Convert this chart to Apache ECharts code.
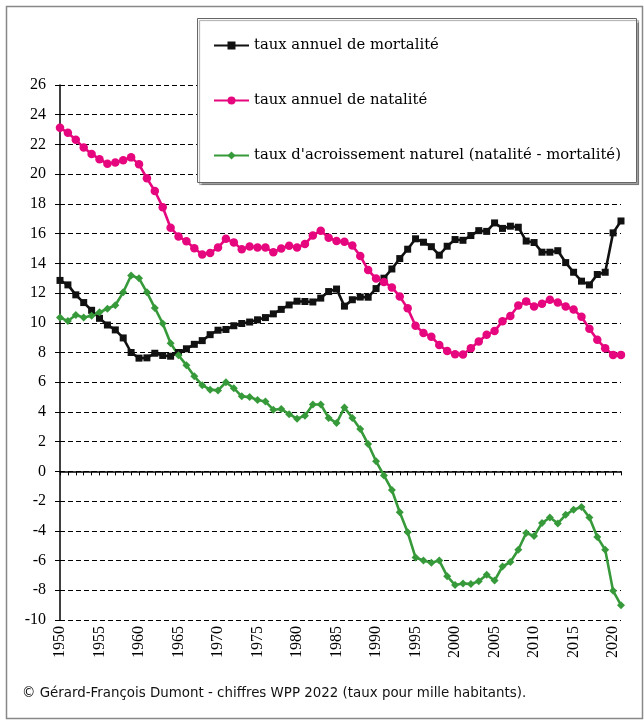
<!DOCTYPE html>
<html><head><meta charset="utf-8">
<script src="https://cdn.jsdelivr.net/npm/echarts@6/dist/echarts.min.js"></script>
<style>html,body{margin:0;padding:0;background:#fff}#c{width:644px;height:720px}</style>
</head><body><div id="c"></div>
<script>
const years = ['1950','1951','1952','1953','1954','1955','1956','1957','1958','1959','1960','1961','1962','1963','1964','1965','1966','1967','1968','1969','1970','1971','1972','1973','1974','1975','1976','1977','1978','1979','1980','1981','1982','1983','1984','1985','1986','1987','1988','1989','1990','1991','1992','1993','1994','1995','1996','1997','1998','1999','2000','2001','2002','2003','2004','2005','2006','2007','2008','2009','2010','2011','2012','2013','2014','2015','2016','2017','2018','2019','2020','2021'];
const mortalite = [12.85,12.55,11.88,11.36,10.84,10.3,9.85,9.52,8.98,8.0,7.62,7.64,7.95,7.8,7.75,8.0,8.25,8.55,8.8,9.2,9.5,9.55,9.8,9.95,10.05,10.2,10.35,10.6,10.9,11.2,11.45,11.43,11.4,11.66,12.1,12.27,11.12,11.55,11.73,11.72,12.3,13.0,13.62,14.32,14.95,15.65,15.42,15.12,14.55,15.15,15.6,15.55,15.87,16.2,16.15,16.72,16.35,16.5,16.43,15.5,15.4,14.75,14.75,14.85,14.05,13.4,12.8,12.55,13.25,13.4,16.05,16.85];
const natalite = [23.13,22.78,22.31,21.79,21.36,21.01,20.7,20.78,20.94,21.13,20.66,19.72,18.87,17.78,16.4,15.81,15.48,15.01,14.59,14.7,15.06,15.65,15.41,14.94,15.13,15.06,15.06,14.75,15.0,15.18,15.06,15.3,15.88,16.2,15.72,15.5,15.45,15.2,14.5,13.55,12.98,12.75,12.38,11.77,10.97,9.8,9.32,9.06,8.51,8.1,7.88,7.86,8.28,8.74,9.19,9.44,10.11,10.45,11.16,11.44,11.1,11.28,11.55,11.37,11.1,10.89,10.4,9.6,8.85,8.29,7.84,7.84];
const accroissement = [10.35,10.12,10.52,10.35,10.47,10.71,10.94,11.18,12.05,13.18,12.99,12.05,11.0,9.95,8.62,7.81,7.15,6.4,5.8,5.5,5.45,6.0,5.6,5.05,5.0,4.8,4.7,4.15,4.2,3.85,3.55,3.75,4.5,4.5,3.6,3.25,4.3,3.6,2.85,1.84,0.68,-0.27,-1.25,-2.75,-4.1,-5.8,-6.0,-6.15,-6.0,-7.05,-7.65,-7.55,-7.57,-7.4,-6.95,-7.35,-6.4,-6.1,-5.27,-4.15,-4.35,-3.48,-3.1,-3.5,-2.92,-2.58,-2.4,-3.1,-4.42,-5.27,-8.04,-9.0];
const seriesNames = ['taux annuel de mortalité', 'taux annuel de natalité', "taux d'acroissement naturel (natalité - mortalité)"];
const footerText = '© Gérard-François Dumont - chiffres WPP 2022 (taux pour mille habitants).';

const serif = "'Liberation Serif', 'DejaVu Serif', serif";
const legendFont = "'DejaVu Serif', 'Liberation Serif', serif";
const chart = echarts.init(document.getElementById('c'), null, {renderer: 'canvas'});
const option = {
  animation: false,
  backgroundColor: '#fff',
  grid: {left: 60, right: 23, top: 85, bottom: 100, containLabel: false},
  xAxis: [
    {type: 'category', data: years, boundaryGap: false, position: 'bottom',
     axisLine: {show: false, onZero: false}, axisTick: {show: false},
     axisLabel: {interval: 4, rotate: 90, fontFamily: serif, fontSize: 16, color: '#000', margin: 6},
     splitLine: {show: false}},
    {type: 'category', data: years, boundaryGap: false, position: 'top',
     axisLine: {show: true, onZero: true, lineStyle: {color: '#000', width: 1.5}},
     axisTick: {show: true, interval: 0, inside: true, length: 4, lineStyle: {color: '#000', width: 1}},
     axisLabel: {show: false}, splitLine: {show: false}}
  ],
  yAxis: {type: 'value', min: -10, max: 26, interval: 2,
    axisLine: {show: true, lineStyle: {color: '#000', width: 1.5}},
    axisTick: {show: true, length: 5, lineStyle: {color: '#000'}},
    axisLabel: {fontFamily: serif, fontSize: 16, color: '#000', margin: 14},
    splitLine: {lineStyle: {type: [5, 3], color: '#000', width: 1.2}}},
  legend: {orient: 'vertical', left: 208, top: 33, itemWidth: 35, itemHeight: 10, itemGap: 40,
    textStyle: {fontFamily: legendFont, fontSize: 14.8, color: '#000'}, data: seriesNames, z: 5},
  graphic: [
    {type: 'rect', left: 4, top: 4, shape: {width: 636, height: 712}, style: {fill: 'none', stroke: '#888', lineWidth: 1.5}, z: 0, silent: true},
    {type: 'rect', left: 197, top: 18, shape: {width: 439, height: 164}, style: {fill: '#fff', stroke: '#666', lineWidth: 1, shadowColor: 'rgba(0,0,0,0.35)', shadowOffsetX: 2, shadowOffsetY: 2, shadowBlur: 1}, z: 3, silent: true},
    {type: 'text', left: 22, top: 687, style: {text: footerText, fontFamily: "'DejaVu Sans', sans-serif", fontSize: 13.4, fill: '#111'}, z: 3}
  ],
  series: [
    {name: seriesNames[0], type: 'line', data: mortalite, symbol: 'rect', symbolSize: 7, showAllSymbol: true, color: '#111',
     lineStyle: {width: 2.6, color: '#111'}, itemStyle: {color: '#111'}},
    {name: seriesNames[1], type: 'line', data: natalite, symbol: 'circle', symbolSize: 8.5, showAllSymbol: true, color: '#e6077e',
     lineStyle: {width: 2.6, color: '#e6077e'}, itemStyle: {color: '#e6077e'}},
    {name: seriesNames[2], type: 'line', data: accroissement, symbol: 'diamond', symbolSize: 8, showAllSymbol: true, color: '#379a3a',
     lineStyle: {width: 2.6, color: '#379a3a'}, itemStyle: {color: '#379a3a'}}
  ]
};
chart.setOption(option);
</script>
</body></html>
